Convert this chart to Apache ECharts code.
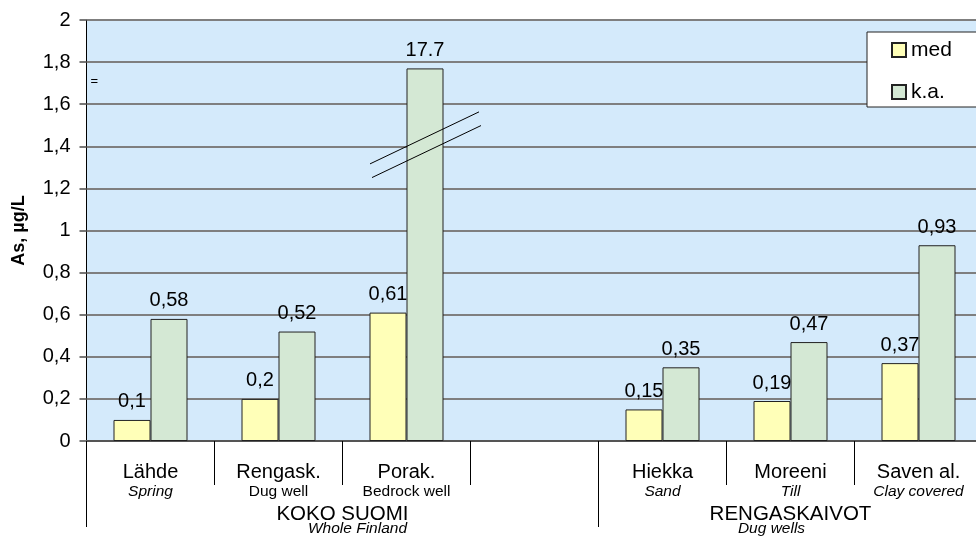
<!DOCTYPE html>
<html><head><meta charset="utf-8">
<script src="https://cdn.jsdelivr.net/npm/echarts@6/dist/echarts.min.js"></script>
<style>html,body{margin:0;padding:0;background:#fff;overflow:hidden;width:976px;height:536px}#c{width:992px;height:536px}</style>
</head><body><div id="c"></div>
<script>
const categories = ['Lähde','Rengask.','Porak.','','Hiekka','Moreeni','Saven al.'];
const subLabels = ['Spring','Dug well','Bedrock well','','Sand','Till','Clay covered'];
const subItalic = [true, false, false, false, true, true, true];
const medValues = [0.1, 0.2, 0.61, null, 0.15, 0.19, 0.37];
const kaValues = [0.58, 0.52, 1.77, null, 0.35, 0.47, 0.93];
const medLabels = ['0,1','0,2','0,61','','0,15','0,19','0,37'];
const kaLabels = ['0,58','0,52','17.7','','0,35','0,47','0,93'];
const groups = [
  {name:'KOKO SUOMI', sub:'Whole Finland', from:0, to:4, subShift:15},
  {name:'RENGASKAIVOT', sub:'Dug wells', from:4, to:7, subShift:-19}
];
const yTicks = ['0','0,2','0,4','0,6','0,8','1','1,2','1,4','1,6','1,8','2'];

const FONT = 'Liberation Sans, Arial, sans-serif';
const chart = echarts.init(document.getElementById('c'));
chart.setOption({
  animation:false,
  textStyle:{fontFamily:FONT},
  grid:{left:86.5, top:20, width:896, height:421, show:true, backgroundColor:'#d4eafb', borderWidth:0},
  legend:{
    orient:'vertical', left:867, top:32,
    backgroundColor:'#fff', borderColor:'#222', borderWidth:1,
    padding:[7,40,4,24], itemGap:20, itemWidth:14, itemHeight:14,
    textStyle:{fontSize:21, lineHeight:22, color:'#000', fontFamily:FONT},
    data:[{name:'med', icon:'rect'},{name:'k.a.', icon:'rect'}]
  },
  xAxis:{
    type:'category', data:categories,
    axisLine:{lineStyle:{color:'#555', width:2}},
    axisTick:{show:true, length:44, lineStyle:{color:'#000', width:1}},
    axisLabel:{
      margin:20, interval:0,
      formatter:(v,i)=> v ? '{a|'+v+'}\n{'+(subItalic[i]?'b':'c')+'|'+subLabels[i]+'}' : '',
      rich:{
        a:{fontSize:20, color:'#000', lineHeight:22, fontFamily:FONT},
        b:{fontSize:15.5, color:'#000', fontStyle:'italic', lineHeight:18, fontFamily:FONT},
        c:{fontSize:15.5, color:'#000', lineHeight:18, fontFamily:FONT}
      }
    }
  },
  yAxis:{
    type:'value', min:0, max:2, interval:0.2,
    name:'As, µg/L', nameLocation:'middle', nameGap:58,
    nameTextStyle:{fontSize:18, fontWeight:'bold', color:'#000', fontFamily:FONT},
    axisLine:{show:true, lineStyle:{color:'#000', width:1}},
    axisTick:{show:true, length:7, lineStyle:{color:'#777', width:2}},
    axisLabel:{fontSize:20, color:'#000', margin:16, formatter:(v)=>{const i=Math.round(v/0.2);return yTicks[i];}},
    splitLine:{show:true, lineStyle:{color:'#7f7f7f', width:2}}
  },
  series:[
    {name:'med', type:'bar', data:medValues, barWidth:37, barGap:'0%',
     itemStyle:{color:'#ffffb8', borderColor:'#222', borderWidth:1},
     label:{show:true, position:'top', distance:8, fontSize:20, color:'#000', fontFamily:FONT,
            formatter:(p)=>medLabels[p.dataIndex]}},
    {name:'k.a.', type:'bar', data:kaValues, barWidth:37,
     itemStyle:{color:'#d4e8d4', borderColor:'#222', borderWidth:1},
     label:{show:true, position:'top', distance:8, fontSize:20, color:'#000', fontFamily:FONT,
            formatter:(p)=>kaLabels[p.dataIndex]}}
  ]
});

function drawExtras(){
  const c0 = chart.convertToPixel({xAxisIndex:0}, 0);
  const c1 = chart.convertToPixel({xAxisIndex:0}, 1);
  const band = c1 - c0;
  const bx = (i)=> c0 - band/2 + i*band;
  const y0 = chart.convertToPixel({yAxisIndex:0}, 0);
  const els = [];
  groups.forEach(g=>{
    els.push({type:'line', z:100, shape:{x1:bx(g.from), y1:y0, x2:bx(g.from), y2:y0+86}, style:{stroke:'#000', lineWidth:1}});
    const cx = (bx(g.from)+bx(g.to))/2;
    els.push({type:'text', z:100, x:cx, y:y0+73, style:{text:g.name, fontSize:20.5, fill:'#000', fontFamily:FONT, align:'center', verticalAlign:'middle'}});
    els.push({type:'text', z:100, x:cx+g.subShift, y:y0+88, style:{text:g.sub, fontSize:15.5, fontStyle:'italic', fill:'#000', fontFamily:FONT, align:'center', verticalAlign:'middle'}});
  });
  // axis break marks on the Porak. k.a. bar
  const kx = chart.convertToPixel({xAxisIndex:0}, 2) + 18.5;
  const ya = chart.convertToPixel({yAxisIndex:0}, 1.44);
  const yb = chart.convertToPixel({yAxisIndex:0}, 1.375);
  els.push({type:'line', z:100, shape:{x1:kx-55, y1:ya+26, x2:kx+54, y2:ya-26}, style:{stroke:'#000', lineWidth:1}});
  els.push({type:'line', z:100, shape:{x1:kx-53, y1:yb+26, x2:kx+56, y2:yb-26}, style:{stroke:'#000', lineWidth:1}});
  els.push({type:'text', z:100, x:bx(0)+4, y:chart.convertToPixel({yAxisIndex:0}, 1.71), style:{text:'=', fontSize:13, fill:'#000', fontFamily:FONT, verticalAlign:'middle'}});
  chart.setOption({graphic:{elements:els}});
}
drawExtras();
</script>
</body></html>
